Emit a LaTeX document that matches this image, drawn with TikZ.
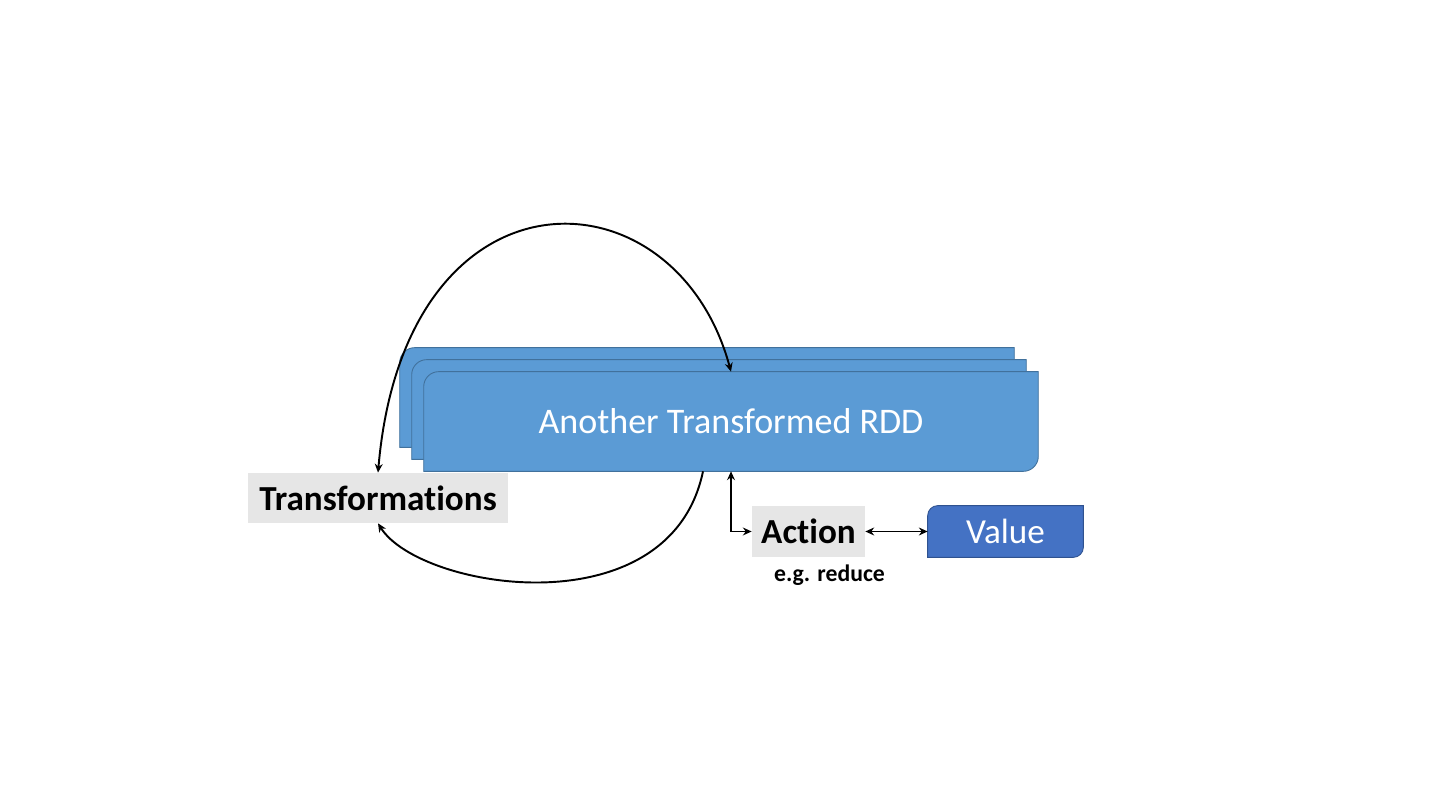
\documentclass[tikz,border=0pt]{standalone}
\usepackage{fontspec}
\setmainfont{Carlito}[Ligatures=NoCommon]
\usetikzlibrary{arrows.meta,positioning,calc,backgrounds}

\definecolor{rddblue}{HTML}{5B9BD5}
\definecolor{rddline}{HTML}{41719C}
\definecolor{valblue}{HTML}{4472C4}
\definecolor{valline}{HTML}{2F528F}
\definecolor{opgray}{HTML}{E6E6E6}

% box with rounded top left and bottom right corners
\newcommand{\diagbox}[3]{%
  \path[#3] (#1.south west) -- ([yshift=-#2]#1.north west)
     arc[start angle=180, end angle=90, radius=#2] -- (#1.north east)
     -- ([yshift=#2]#1.south east) arc[start angle=0, end angle=-90, radius=#2] -- cycle;}

\begin{document}
\begin{tikzpicture}[x=0.02cm, y=0.02cm,
                    every rdd layer/.style = {},
                    rdd layer/.style = {rectangle, inner sep=0pt, minimum width=12.28cm, minimum height=1.98cm, every rdd layer},
                    rdd fill/.style = {fill=rddblue, draw=rddline, line width=0.5pt},
                    operation/.style = {rectangle, fill=opgray, inner sep=0pt, font=\fontsize{20}{24}\selectfont\bfseries},
                    result/.style = {rectangle, inner sep=0pt, minimum width=3.1cm, minimum height=1.02cm, text=white, font=\fontsize{20}{24}\selectfont},
                    result fill/.style = {fill=valblue, draw=valline, line width=0.5pt},
                    link/.style = {line width=1.1pt, >={Stealth[length=5pt, width=4.5pt]}}]

                \useasboundingbox (0,0) rectangle (1440,810);

                \node [rdd layer] (rddA) at (707,412.5) {};
                \node [rdd layer] (rddB) at ($(rddA)+(12,-12)$) {};
                \node [rdd layer, text=white, font=\fontsize{20.5}{24}\selectfont] (rdd) at ($(rddB)+(12,-12)$) {Another Transformed RDD};

                \node [operation, minimum width=5.2cm, minimum height=1cm] (trans) at (378,312) {Transformations};
                \node [operation, minimum width=2.26cm, minimum height=1.02cm] (action) at (808.5,278.5) {Action};
                \node [result] (value) at (1005.5,278.5) {Value};
                \node [font=\fontsize{13.5}{16}\selectfont\bfseries] (example) at (829.5,235) {e.g. reduce};

                \begin{scope}[on background layer]
                  \diagbox{rddA}{0.3cm}{rdd fill}
                  \diagbox{rddB}{0.3cm}{rdd fill}
                  \diagbox{rdd}{0.3cm}{rdd fill}
                  \diagbox{value}{0.2cm}{result fill}
                \end{scope}

                % transformation loop
                \draw [link, <->] (trans.north) .. controls (405,652) and (675,645) .. (rdd.north);
                \draw [link, ->] ($(rdd.south)+(-28,0)$) .. controls (670,180) and (420,220) .. (trans.south);

                % action
                \draw [link, <->] (rdd.south) |- (action.west);
                \draw [link, <->] (action.east) -- (value.west);
\end{tikzpicture}
\end{document}
